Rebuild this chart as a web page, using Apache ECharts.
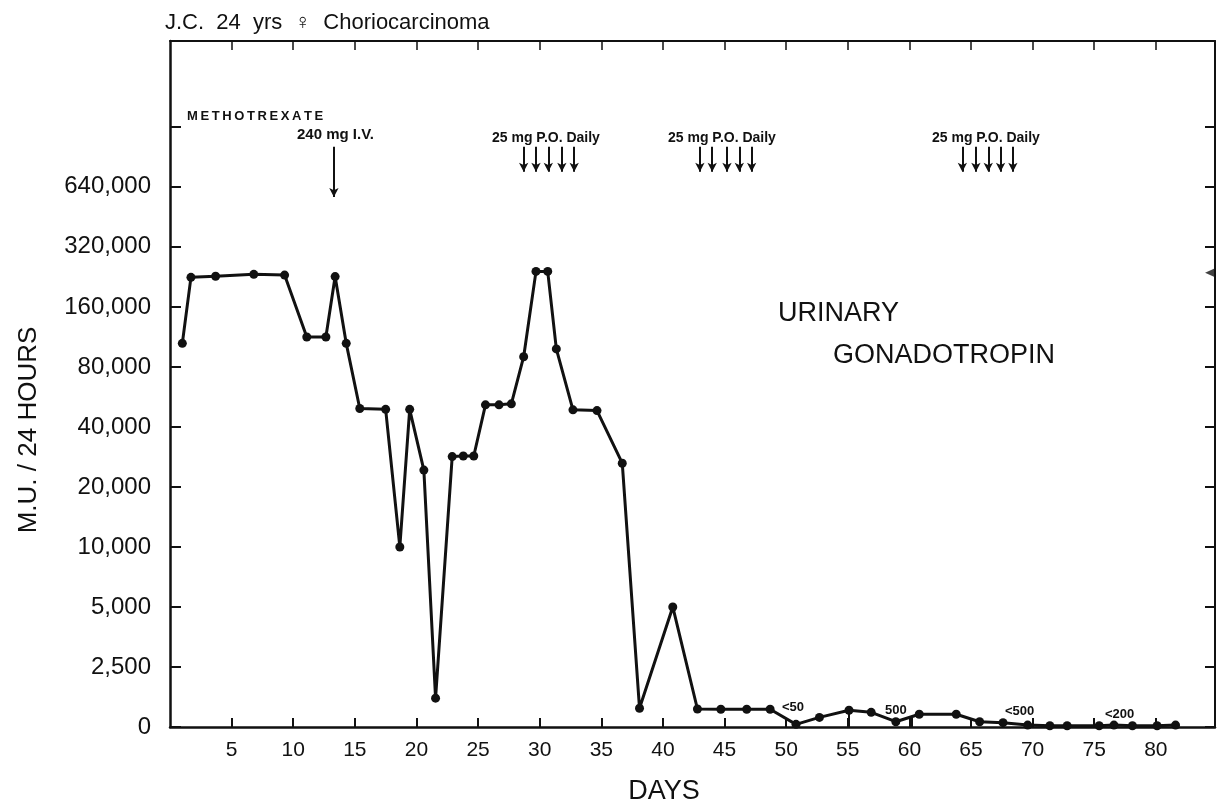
<!DOCTYPE html>
<html>
<head>
<meta charset="utf-8">
<script src="https://cdn.jsdelivr.net/npm/echarts@6/dist/echarts.min.js"></script>
<style>
  html, body { margin: 0; background: #fff; }
  #chart { width: 1217px; height: 805px; }
</style>
</head>
<body>
<div id="chart"></div>
<script>
// urinary gonadotropin, M.U./24 h
const days = [1.0, 1.7, 3.7, 6.8, 9.3, 11.1, 12.65, 13.4, 14.3, 15.4, 17.5, 18.65, 19.45, 20.6, 21.55,
  22.9, 23.8, 24.65, 25.6, 26.7, 27.7, 28.7, 29.7, 30.65, 31.35, 32.7, 34.65, 36.7, 38.1, 40.8,
  42.8, 44.7, 46.8, 48.7, 50.8, 52.7, 55.1, 56.9, 58.9, 60.8, 63.8, 65.7, 67.6, 69.6, 71.4,
  72.8, 75.4, 76.6, 78.1, 80.1, 81.6]
const gonadotropin = [105000, 225000, 228000, 233000, 231000, 113000, 113000, 227000, 105000, 49500, 49000, 10000, 49000, 24300, 1200,
  28400, 28600, 28600, 51600, 51600, 52200, 90000, 241000, 241000, 98500, 48700, 48300, 26300, 780, 5000,
  750, 740, 740, 740, 110, 400, 700, 610, 220, 530, 530, 220, 180, 80, 50,
  50, 50, 80, 50, 50, 80]

const yTickLabels = ['0', '2,500', '5,000', '10,000', '20,000', '40,000', '80,000', '160,000', '320,000', '640,000', '']
const xTickDays = [5, 10, 15, 20, 25, 30, 35, 40, 45, 50, 55, 60, 65, 70, 75, 80]

// methotrexate doses
const ivDoseDays = [13.3]
const poDoseDays = [28.7, 29.7, 30.7, 31.8, 32.8, 43.0, 44.0, 45.2, 46.2, 47.2, 64.3, 65.4, 66.4, 67.4, 68.4]

// little vertical drop lines near the baseline [day, value]
const dropLines = [[55.1, 700], [60.2, 450]]
// stray arrowhead at the right edge [day, value]
const edgeMark = [[84.4, 237000]]

// y scale: linear from 0 to 2,500, then one band per doubling
const toBand = (v) => (v <= 2500 ? v / 2500 : 1 + Math.log2(v / 2500))
const bandTicks = yTickLabels.map((_, i) => i)

const font = '"Liberation Sans", Arial, sans-serif'
const ink = '#111'
const thin = '\u2009'
const spaced = (s) => s.split('').join(thin)

const axisBase = {
    type: 'value',
    splitLine: { show: false },
    axisLine: { show: true, onZero: false, lineStyle: { color: ink, width: 2 } },
}

const xAxisBottom = {
    ...axisBase,
    min: 0,
    max: 84.8,
    position: 'bottom',
    axisLine: { show: true, onZero: false, lineStyle: { color: ink, width: 2.5 } },
    axisTick: { inside: true, length: 9, customValues: xTickDays, lineStyle: { color: ink, width: 2 } },
    axisLabel: { customValues: xTickDays, fontFamily: font, fontSize: 21, color: ink, margin: 13 },
}

const xAxisTop = {
    ...axisBase,
    min: 0,
    max: 84.8,
    position: 'top',
    axisTick: { inside: true, length: 9, customValues: xTickDays, lineStyle: { color: ink, width: 1.5 } },
    axisLabel: { show: false },
}

const yAxisLeft = {
    ...axisBase,
    min: 0,
    max: 11.43,
    position: 'left',
    axisLine: { show: true, onZero: false, lineStyle: { color: ink, width: 2.5 } },
    axisTick: { inside: true, length: 11, customValues: bandTicks, lineStyle: { color: ink, width: 2 } },
    axisLabel: {
        customValues: bandTicks,
        formatter: (v) => yTickLabels[Math.round(v)] ?? '',
        fontFamily: font,
        fontSize: 24,
        color: ink,
        margin: 19,
    },
}

const yAxisRight = {
    ...axisBase,
    min: 0,
    max: 11.43,
    position: 'right',
    axisTick: { inside: true, length: 10, customValues: bandTicks, lineStyle: { color: ink, width: 2 } },
    axisLabel: { show: false },
}

const arrow = (d, top, bottom) => [
    { coord: [d, top] },
    { coord: [d, bottom] },
]

const doseArrows = [
    ...ivDoseDays.map((d) => arrow(d, 9.67, 8.83)),
    ...poDoseDays.map((d) => arrow(d, 9.67, 9.25)),
]

const drops = dropLines.map(([d, v]) => [{ coord: [d, 0] }, { coord: [d, toBand(v)] }])

const text = (x, y, str, size, extra = {}) => ({
    type: 'text',
    x,
    y,
    style: {
        text: str,
        fontFamily: font,
        fontSize: size,
        fill: ink,
        align: 'left',
        verticalAlign: 'middle',
        ...extra,
    },
})

const option = {
    backgroundColor: '#fff',
    animation: false,
    grid: { left: 170, right: 2, top: 41, bottom: 78 },
    xAxis: [xAxisBottom, xAxisTop],
    yAxis: [yAxisLeft, yAxisRight],
    series: [
        {
            name: 'urinary gonadotropin',
            type: 'line',
            data: days.map((d, i) => [d, toBand(gonadotropin[i])]),
            symbol: 'circle',
            symbolSize: 9,
            lineStyle: { color: ink, width: 3 },
            itemStyle: { color: ink },
            markLine: {
                silent: true,
                symbol: ['none', 'arrow'],
                symbolSize: [7, 9],
                label: { show: false },
                lineStyle: { color: ink, width: 2, type: 'solid' },
                data: doseArrows,
            },
        },
        {
            name: 'drops',
            type: 'line',
            data: [],
            markLine: {
                silent: true,
                symbol: ['none', 'none'],
                label: { show: false },
                lineStyle: { color: ink, width: 2, type: 'solid' },
                data: drops,
            },
        },
        {
            name: 'edge',
            type: 'scatter',
            data: edgeMark.map(([d, v]) => [d, toBand(v)]),
            symbol: 'triangle',
            symbolRotate: 90,
            symbolSize: [9, 10],
            itemStyle: { color: ink },
        },
    ],
    graphic: [
        text(165, 23, 'J.C.  24  yrs  ♀  Choriocarcinoma', 22),
        text(187, 116, spaced('METHOTREXATE'), 13, { fontWeight: 'bold' }),
        text(297, 135, '240 mg I.V.', 15, { fontWeight: 'bold' }),
        text(492, 138, '25 mg P.O. Daily', 14, { fontWeight: 'bold' }),
        text(668, 138, '25 mg P.O. Daily', 14, { fontWeight: 'bold' }),
        text(932, 138, '25 mg P.O. Daily', 14, { fontWeight: 'bold' }),
        text(778, 314, 'URINARY', 27),
        text(833, 356, 'GONADOTROPIN', 27),
        text(782, 707, '<50', 13, { fontWeight: 'bold' }),
        text(885, 710, '500', 13, { fontWeight: 'bold' }),
        text(1005, 711, '<500', 13, { fontWeight: 'bold' }),
        text(1105, 714, '<200', 13, { fontWeight: 'bold' }),
        text(664, 792, 'DAYS', 27, { align: 'center' }),
        {
            type: 'text',
            x: 29,
            y: 430,
            rotation: Math.PI / 2,
            style: {
                text: 'M.U. / 24 HOURS',
                fontFamily: font,
                fontSize: 26,
                fill: ink,
                align: 'center',
                verticalAlign: 'middle',
            },
        },
    ],
}

const chart = echarts.init(document.getElementById('chart'), null, { renderer: 'canvas' })
chart.setOption(option)
</script>
</body>
</html>
